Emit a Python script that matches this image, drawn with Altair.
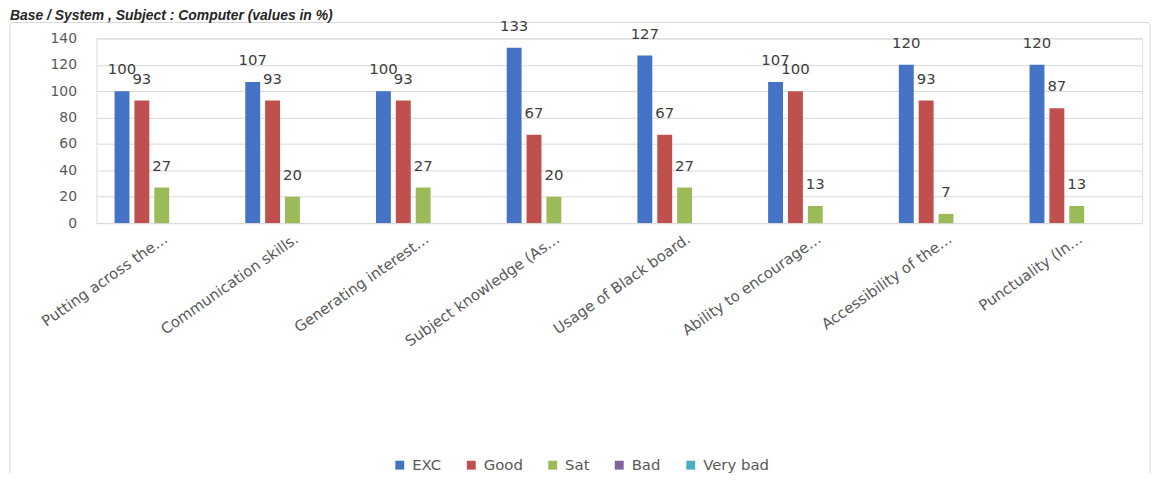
import altair as alt
import pandas as pd

categories = ["Putting across the…", "Communication skills.", "Generating interest…",
              "Subject knowledge (As…", "Usage of Black board.", "Ability to encourage…",
              "Accessibility of the…", "Punctuality (In…"]
series = ["EXC", "Good", "Sat", "Bad", "Very bad"]
colors = ["#4472C4", "#C0504D", "#9BBB59", "#8064A2", "#4BACC6"]
exc = [100, 107, 100, 133, 127, 107, 120, 120]
good = [93, 93, 93, 67, 67, 100, 93, 87]
sat = [27, 20, 27, 20, 27, 13, 7, 13]
bad = [0, 0, 0, 0, 0, 0, 0, 0]
very_bad = [0, 0, 0, 0, 0, 0, 0, 0]
y_ticks = [0, 20, 40, 60, 80, 100, 120, 140]
title_text = "Base / System , Subject : Computer (values in %)"

rows = []
for s, vals in zip(series, [exc, good, sat, bad, very_bad]):
    for c, v in zip(categories, vals):
        rows.append({"Category": c, "Series": s, "Value": v})
df = pd.DataFrame(rows)

FONT = "DejaVu Sans"
W, H = 1053, 186

x_enc = alt.X("Category:N", sort=categories,
              scale=alt.Scale(paddingInner=0.24, paddingOuter=0.12),
              axis=alt.Axis(title=None, labelAngle=325, labelAlign="right", labelBaseline="top",
                            labelFont=FONT, labelFontSize=15, labelColor="#595959",
                            labelPadding=8, domain=False, ticks=False, labelLimit=400,
                            labelOverlap=False))
xoff = alt.XOffset("Series:N", sort=series,
                   scale=alt.Scale(domain=series, paddingInner=0.25, paddingOuter=0.125))
y_enc = alt.Y("Value:Q", scale=alt.Scale(domain=[0, 140], nice=False),
              axis=alt.Axis(title=None, values=y_ticks, grid=True,
                            gridColor="#d9d9d9", domain=False, ticks=False,
                            labelFont=FONT, labelFontSize=14, labelColor="#595959",
                            labelPadding=20, labelOverlap=False, labelBound=False,
                            labelFlush=False))

bars = alt.Chart(df).mark_bar().encode(
    x=x_enc, xOffset=xoff, y=y_enc,
    color=alt.Color("Series:N", sort=series,
                    scale=alt.Scale(domain=series, range=colors),
                    legend=alt.Legend(title=None, orient="none", direction="horizontal",
                                      legendX=298, legendY=422, symbolType="square",
                                      symbolSize=80, symbolStrokeWidth=0,
                                      labelFont=FONT, labelFontSize=15, labelColor="#595959",
                                      columnPadding=22, labelOffset=5)),
)

labels = alt.Chart(df).transform_filter("datum.Value > 0").mark_text(
    font=FONT, fontSize=15, color="#404040", baseline="middle", dy=-22
).encode(x=x_enc, xOffset=xoff, y=y_enc, text="Value:Q")

frame_df = pd.DataFrame({"k": [0]})
frame = alt.Chart(frame_df).mark_rect(fill="white", fillOpacity=0, stroke="#d9d9d9",
                                      strokeWidth=1, cornerRadius=3).encode(
    x=alt.value(-87), x2=alt.value(1061), y=alt.value(-16), y2=alt.value(448))

title = alt.Chart(frame_df).mark_text(
    font="Liberation Sans", fontSize=14, fontWeight="bold", fontStyle="italic",
    color="#262626", align="left", baseline="alphabetic"
).encode(x=alt.value(-87), y=alt.value(-19), text=alt.value(title_text))

chart = alt.layer(frame, bars, labels, title).properties(
    width=W, height=H,
    padding={"left": 89, "top": 29, "right": 13, "bottom": 250},
    autosize=alt.AutoSizeParams(type="none"),
).configure_view(stroke=None).configure(background="white")

chart.save("out.html", embed_options={"renderer": "svg", "actions": False})
